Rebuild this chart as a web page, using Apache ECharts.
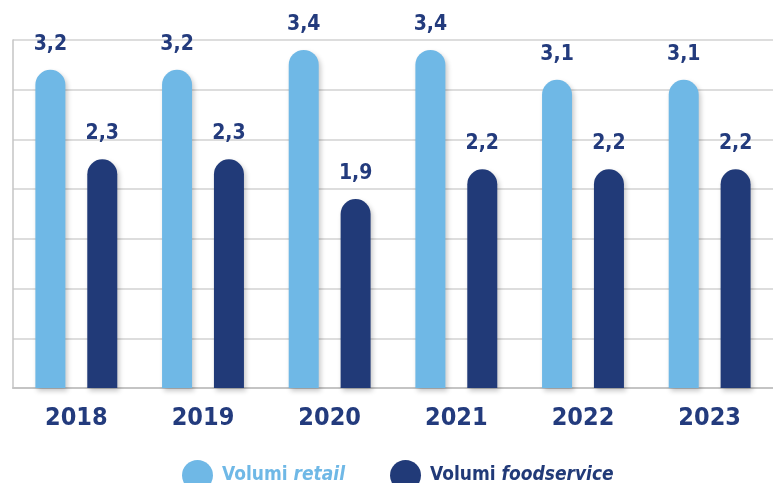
<!DOCTYPE html>
<html>
<head>
<meta charset="utf-8">
<script src="https://cdn.jsdelivr.net/npm/echarts@6/dist/echarts.min.js"></script>
<style>
html,body{margin:0;padding:0;background:#fff;}
#chart{width:773px;height:483px;}
</style>
</head>
<body>
<div id="chart"></div>
<script>
const categories = ['2018', '2019', '2020', '2021', '2022', '2023'];
const retailValues = [3.2, 3.2, 3.4, 3.4, 3.1, 3.1];
const foodserviceValues = [2.3, 2.3, 1.9, 2.2, 2.2, 2.2];
const seriesNames = ['Volumi retail', 'Volumi foodservice'];

const LIGHT = '#6fb8e6';
const DARK = '#213a78';
const TEXT = '#233b7d';
const FONT = '"Liberation Sans Narrow", "DejaVu Sans Condensed", "Roboto", sans-serif';

const chart = echarts.init(document.getElementById('chart'));

function barSeries(name, data, color) {
  return {
    name: name,
    type: 'bar',
    data: data,
    barWidth: 30,
    barGap: '73%',
    itemStyle: {
      color: color,
      borderRadius: [15, 15, 0, 0],
      shadowColor: 'rgba(0,0,0,0.22)',
      shadowBlur: 5,
      shadowOffsetX: 2,
      shadowOffsetY: 3
    },
    label: {
      show: true,
      position: 'top',
      distance: 15,
      color: TEXT,
      fontFamily: FONT,
      fontWeight: 'bold',
      fontSize: 21,
      formatter: p => String(p.value).replace('.', ',')
    }
  };
}

chart.setOption({
  animation: false,
  backgroundColor: '#fff',
  grid: { left: 13, right: -6, top: 40, bottom: 95 },
  legend: {
    left: 177,
    top: 455,
    icon: 'circle',
    itemWidth: 31,
    itemHeight: 31,
    itemGap: 45,
    data: seriesNames,
    formatter: function (name) {
      if (name === 'Volumi retail') return '{a|Volumi }{ai|retail}';
      return '{b|Volumi }{bi|foodservice}';
    },
    textStyle: {
      fontFamily: FONT,
      fontSize: 19,
      fontWeight: 'bold',
      padding: [0, 0, 0, 4],
      rich: {
        a: { color: LIGHT, fontFamily: FONT, fontSize: 19, fontWeight: 'bold' },
        ai: { color: LIGHT, fontFamily: FONT, fontSize: 19, fontWeight: 'bold', fontStyle: 'italic' },
        b: { color: DARK, fontFamily: FONT, fontSize: 19, fontWeight: 'bold' },
        bi: { color: DARK, fontFamily: FONT, fontSize: 19, fontWeight: 'bold', fontStyle: 'italic' }
      }
    }
  },
  xAxis: {
    type: 'category',
    data: categories,
    axisLine: { show: true, lineStyle: { color: '#c4c4c4', width: 2 } },
    axisTick: { show: false },
    axisLabel: {
      color: TEXT,
      fontFamily: FONT,
      fontWeight: 'bold',
      fontSize: 25,
      margin: 18
    }
  },
  yAxis: {
    type: 'value',
    min: 0,
    max: 3.5,
    interval: 0.5,
    axisLine: { show: true, lineStyle: { color: '#c4c4c4', width: 1.5 } },
    axisTick: { show: false },
    axisLabel: { show: false },
    splitLine: { show: true, lineStyle: { color: '#d2d2d2', width: 1.5 } }
  },
  series: [
    barSeries(seriesNames[0], retailValues, LIGHT),
    barSeries(seriesNames[1], foodserviceValues, DARK)
  ]
});
</script>
</body>
</html>
